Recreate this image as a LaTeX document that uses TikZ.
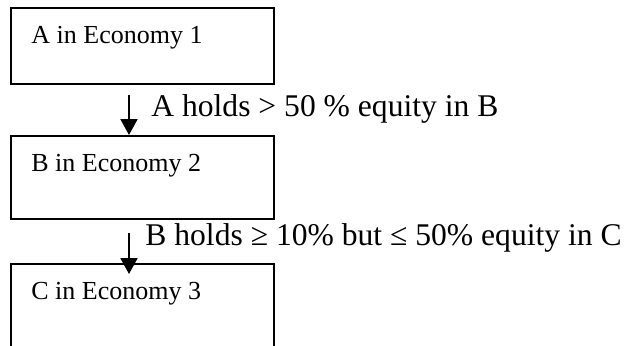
\documentclass[tikz,border=0pt]{standalone}
\usepackage{fontspec}
\setmainfont{Liberation Serif}
\usetikzlibrary{arrows.meta}
\begin{document}
\begin{tikzpicture}[x=0.5pt,y=-0.5pt,
  ebox/.style={draw,line width=1pt,inner sep=0pt,minimum width=131.5pt,anchor=north west},
  boxtext/.style={anchor=base west,inner sep=0pt,font=\fontsize{13}{15}\selectfont},
  lbltext/.style={anchor=base west,inner sep=0pt,font=\fontsize{15.8}{18}\selectfont},
  conn/.style={line width=1pt,-{Triangle[width=8.5pt,length=8pt]}}]
\useasboundingbox (0,0) rectangle (628,345);
\node[ebox,minimum height=38pt] (A) at (10,7) {};
\node[ebox,minimum height=41.5pt] (B) at (10,135) {};
\node[ebox,minimum height=45pt] (C) at (10,263) {};
\node[boxtext] (tA) at (31,43) {A in Economy 1};
\node[boxtext] (tB) at (31,171) {B in Economy 2};
\node[boxtext] (tC) at (31,299) {C in Economy 3};
\coordinate (s1) at (129,95);
\coordinate (s2) at (129,233);
\coordinate (e2) at (129,274);
\draw[conn] (s1) -- (s1 |- B.north);
\draw[conn] (s2) -- (e2);
\node[lbltext] (l1) at (151,116) {A holds > 50 \% equity in B};
\node[lbltext] (l2) at (145,245) {B holds ≥ 10\% but ≤ 50\% equity in C};
\end{tikzpicture}
\end{document}
